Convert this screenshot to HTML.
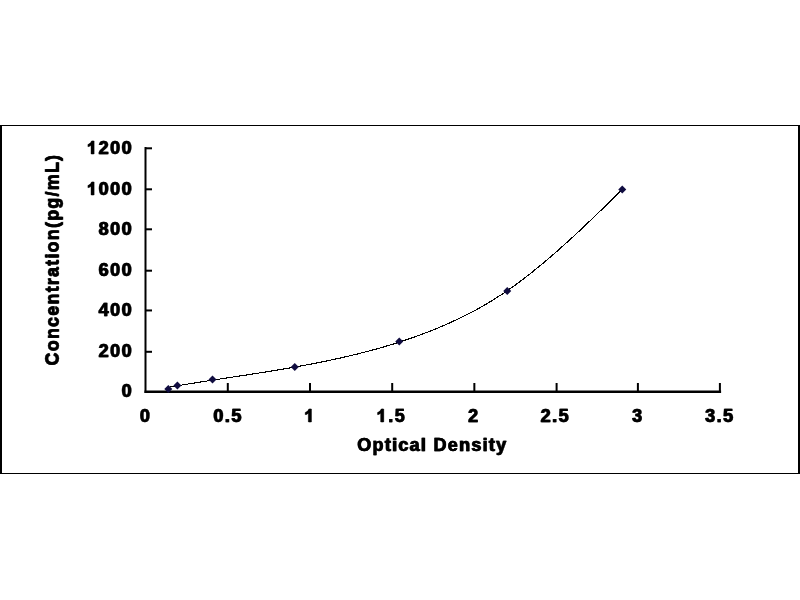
<!DOCTYPE html>
<html><head><meta charset="utf-8"><style>
html,body{margin:0;padding:0;background:#fff;width:800px;height:600px;overflow:hidden}
svg{display:block;will-change:transform}
text{font-family:"Liberation Sans",sans-serif;font-weight:bold;font-size:18px;fill:#000;stroke:#000;stroke-width:0.4px}
.t{letter-spacing:1.5px}
.h{fill:none;stroke:none}
</style></head><body>
<svg width="800" height="600" viewBox="0 0 800 600">
<rect x="0" y="0" width="800" height="600" fill="#fff"/>
<g fill="#000">
<rect x="0" y="125" width="800" height="1"/>
<rect x="0" y="473" width="800" height="1"/>
<rect x="0" y="125" width="2" height="349"/>
<rect x="798" y="125" width="2" height="349"/>
<rect x="144.5" y="147" width="2" height="246"/>
<rect x="144.5" y="390.5" width="576.6" height="2.5"/>
<rect x="145" y="350.80" width="7" height="2"/><rect x="145" y="309.45" width="7" height="2"/><rect x="145" y="269.70" width="7" height="2"/><rect x="145" y="228.30" width="7" height="2"/><rect x="145" y="188.30" width="7" height="2"/><rect x="145" y="147.30" width="7" height="2"/>
<rect x="226.80" y="383" width="2" height="8"/><rect x="309.00" y="383" width="2" height="8"/><rect x="391.20" y="383" width="2" height="8"/><rect x="473.35" y="383" width="2" height="8"/><rect x="555.60" y="383" width="2" height="8"/><rect x="636.90" y="383" width="2" height="8"/><rect x="718.90" y="383" width="2" height="8"/>
</g>
<g id="TX"><g class="t" text-anchor="end"><text id="L0" transform="translate(132.80,397.35)">0</text><text id="L1" transform="translate(132.80,357.40)">200</text><text id="L2" transform="translate(132.80,316.05)">400</text><text id="L3" transform="translate(132.80,276.30)">600</text><text id="L4" transform="translate(132.80,234.90)">800</text><text id="L5" transform="translate(132.80,194.90)"><tspan class="h">1</tspan>000</text><text id="L6" transform="translate(132.80,153.90)"><tspan class="h">1</tspan>200</text></g>
<g class="t" text-anchor="middle"><text id="L7" transform="translate(145.35,421.90)">0</text><text id="L8" transform="translate(227.78,421.90)">0.5</text><text id="L9" transform="translate(309.81,421.90)"><tspan class="h">1</tspan></text><text id="L10" transform="translate(391.14,421.90)"><tspan class="h">1</tspan>.5</text><text id="L11" transform="translate(473.47,421.90)">2</text><text id="L12" transform="translate(555.00,421.90)">2.5</text><text id="L13" transform="translate(637.53,421.90)">3</text><text id="L14" transform="translate(719.56,421.90)">3.5</text></g>
<g fill="#000" stroke="#000" stroke-width="45.5"><path transform="translate(86.74,194.90) scale(0.008789,-0.008789)" d="M763 0H488V1036Q337 895 132 827V1076Q240 1111 367 1209Q494 1307 541 1466H763Z"/><path transform="translate(86.74,153.90) scale(0.008789,-0.008789)" d="M763 0H488V1036Q337 895 132 827V1076Q240 1111 367 1209Q494 1307 541 1466H763Z"/><path transform="translate(304.05,421.90) scale(0.008789,-0.008789)" d="M763 0H488V1036Q337 895 132 827V1076Q240 1111 367 1209Q494 1307 541 1466H763Z"/><path transform="translate(376.37,421.90) scale(0.008789,-0.008789)" d="M763 0H488V1036Q337 895 132 827V1076Q240 1111 367 1209Q494 1307 541 1466H763Z"/></g>
<text transform="translate(432.0,450.5)" text-anchor="middle" style="letter-spacing:1.28px">Optical Density</text></g>
<use href="#TX" x="0.7"/>
<text id="YT" transform="translate(58.6,259.6) rotate(-90)" text-anchor="middle" style="letter-spacing:1.19px">Concentration(pg/mL)</text>
<use href="#YT" x="-0.55"/>
<polyline points="170.50,386.93 172.00,386.67 173.50,386.41 175.00,386.16 176.50,385.91 178.00,385.65 179.50,385.40 181.00,385.16 182.50,384.91 184.00,384.66 185.50,384.42 187.00,384.17 188.50,383.93 190.00,383.69 191.50,383.45 193.00,383.21 194.50,382.97 196.00,382.73 197.50,382.49 199.00,382.26 200.50,382.02 202.00,381.78 203.50,381.55 205.00,381.32 206.50,381.08 208.00,380.85 209.50,380.62 211.00,380.39 212.50,380.16 214.00,379.93 215.50,379.70 217.00,379.47 218.50,379.24 220.00,379.01 221.50,378.78 223.00,378.55 224.50,378.32 226.00,378.09 227.50,377.86 229.00,377.64 230.50,377.41 232.00,377.18 233.50,376.95 235.00,376.72 236.50,376.49 238.00,376.26 239.50,376.03 241.00,375.80 242.50,375.57 244.00,375.34 245.50,375.11 247.00,374.88 248.50,374.65 250.00,374.42 251.50,374.19 253.00,373.95 254.50,373.72 256.00,373.48 257.50,373.25 259.00,373.01 260.50,372.78 262.00,372.54 263.50,372.30 265.00,372.06 266.50,371.82 268.00,371.58 269.50,371.34 271.00,371.09 272.50,370.85 274.00,370.60 275.50,370.35 277.00,370.11 278.50,369.86 280.00,369.61 281.50,369.35 283.00,369.10 284.50,368.85 286.00,368.59 287.50,368.33 289.00,368.07 290.50,367.81 292.00,367.55 293.50,367.29 295.00,367.02 296.50,366.75 298.00,366.48 299.50,366.21 301.00,365.94 302.50,365.66 304.00,365.39 305.50,365.11 307.00,364.83 308.50,364.55 310.00,364.26 311.50,363.97 313.00,363.69 314.50,363.39 316.00,363.10 317.50,362.80 319.00,362.51 320.50,362.21 322.00,361.90 323.50,361.60 325.00,361.29 326.50,360.98 328.00,360.67 329.50,360.35 331.00,360.03 332.50,359.71 334.00,359.39 335.50,359.06 337.00,358.73 338.50,358.40 340.00,358.07 341.50,357.73 343.00,357.39 344.50,357.05 346.00,356.70 347.50,356.35 349.00,356.00 350.50,355.64 352.00,355.28 353.50,354.92 355.00,354.56 356.50,354.19 358.00,353.82 359.50,353.44 361.00,353.06 362.50,352.68 364.00,352.29 365.50,351.90 367.00,351.51 368.50,351.12 370.00,350.72 371.50,350.31 373.00,349.90 374.50,349.49 376.00,349.08 377.50,348.66 379.00,348.24 380.50,347.81 382.00,347.38 383.50,346.95 385.00,346.51 386.50,346.06 388.00,345.62 389.50,345.17 391.00,344.71 392.50,344.25 394.00,343.79 395.50,343.32 397.00,342.85 398.50,342.37 400.00,341.89 401.50,341.40 403.00,340.91 404.50,340.41 406.00,339.91 407.50,339.40 409.00,338.89 410.50,338.38 412.00,337.85 413.50,337.33 415.00,336.79 416.50,336.26 418.00,335.71 419.50,335.17 421.00,334.61 422.50,334.05 424.00,333.49 425.50,332.92 427.00,332.34 428.50,331.76 430.00,331.17 431.50,330.57 433.00,329.97 434.50,329.37 436.00,328.75 437.50,328.13 439.00,327.51 440.50,326.88 442.00,326.24 443.50,325.59 445.00,324.94 446.50,324.28 448.00,323.62 449.50,322.95 451.00,322.27 452.50,321.58 454.00,320.89 455.50,320.19 457.00,319.49 458.50,318.77 460.00,318.05 461.50,317.32 463.00,316.59 464.50,315.84 466.00,315.09 467.50,314.33 469.00,313.57 470.50,312.79 472.00,312.01 473.50,311.21 475.00,310.41 476.50,309.60 478.00,308.78 479.50,307.96 481.00,307.11 482.50,306.26 484.00,305.39 485.50,304.51 487.00,303.63 488.50,302.73 490.00,301.83 491.50,300.91 493.00,299.99 494.50,299.05 496.00,298.11 497.50,297.15 499.00,296.19 500.50,295.21 502.00,294.22 503.50,293.23 505.00,292.22 506.50,291.20 508.00,290.16 509.50,289.12 511.00,288.07 512.50,287.00 514.00,285.93 515.50,284.84 517.00,283.74 518.50,282.64 520.00,281.52 521.50,280.39 523.00,279.25 524.50,278.11 526.00,276.95 527.50,275.78 529.00,274.61 530.50,273.42 532.00,272.23 533.50,271.02 535.00,269.81 536.50,268.59 538.00,267.36 539.50,266.12 541.00,264.88 542.50,263.64 544.00,262.39 545.50,261.13 547.00,259.86 548.50,258.59 550.00,257.30 551.50,256.01 553.00,254.72 554.50,253.41 556.00,252.10 557.50,250.79 559.00,249.46 560.50,248.13 562.00,246.79 563.50,245.45 565.00,244.10 566.50,242.75 568.00,241.39 569.50,240.02 571.00,238.65 572.50,237.27 574.00,235.89 575.50,234.50 577.00,233.11 578.50,231.71 580.00,230.31 581.50,228.90 583.00,227.49 584.50,226.07 586.00,224.65 587.50,223.23 589.00,221.80 590.50,220.37 592.00,218.94 593.50,217.50 595.00,216.06 596.50,214.62 598.00,213.17 599.50,211.72 601.00,210.26 602.50,208.81 604.00,207.35 605.50,205.89 607.00,204.43 608.50,202.96 610.00,201.50 611.50,200.03 613.00,198.56 614.50,197.09 616.00,195.62 617.50,194.14 619.00,192.67 620.50,191.19 622.00,189.72 622.25,189.47" fill="none" stroke="#000" stroke-width="1.1" shape-rendering="crispEdges"/>
<g fill="#100c40"><path d="M168.30 385.10L172.30 389.10L168.30 393.10L164.30 389.10Z"/><path d="M177.40 381.60L181.40 385.60L177.40 389.60L173.40 385.60Z"/><path d="M212.50 375.40L216.50 379.40L212.50 383.40L208.50 379.40Z"/><path d="M294.75 363.00L298.75 367.00L294.75 371.00L290.75 367.00Z"/><path d="M399.25 337.50L403.25 341.50L399.25 345.50L395.25 341.50Z"/><path d="M507.25 287.00L511.25 291.00L507.25 295.00L503.25 291.00Z"/><path d="M622.25 185.50L626.25 189.50L622.25 193.50L618.25 189.50Z"/></g>
</svg>
</body></html>
